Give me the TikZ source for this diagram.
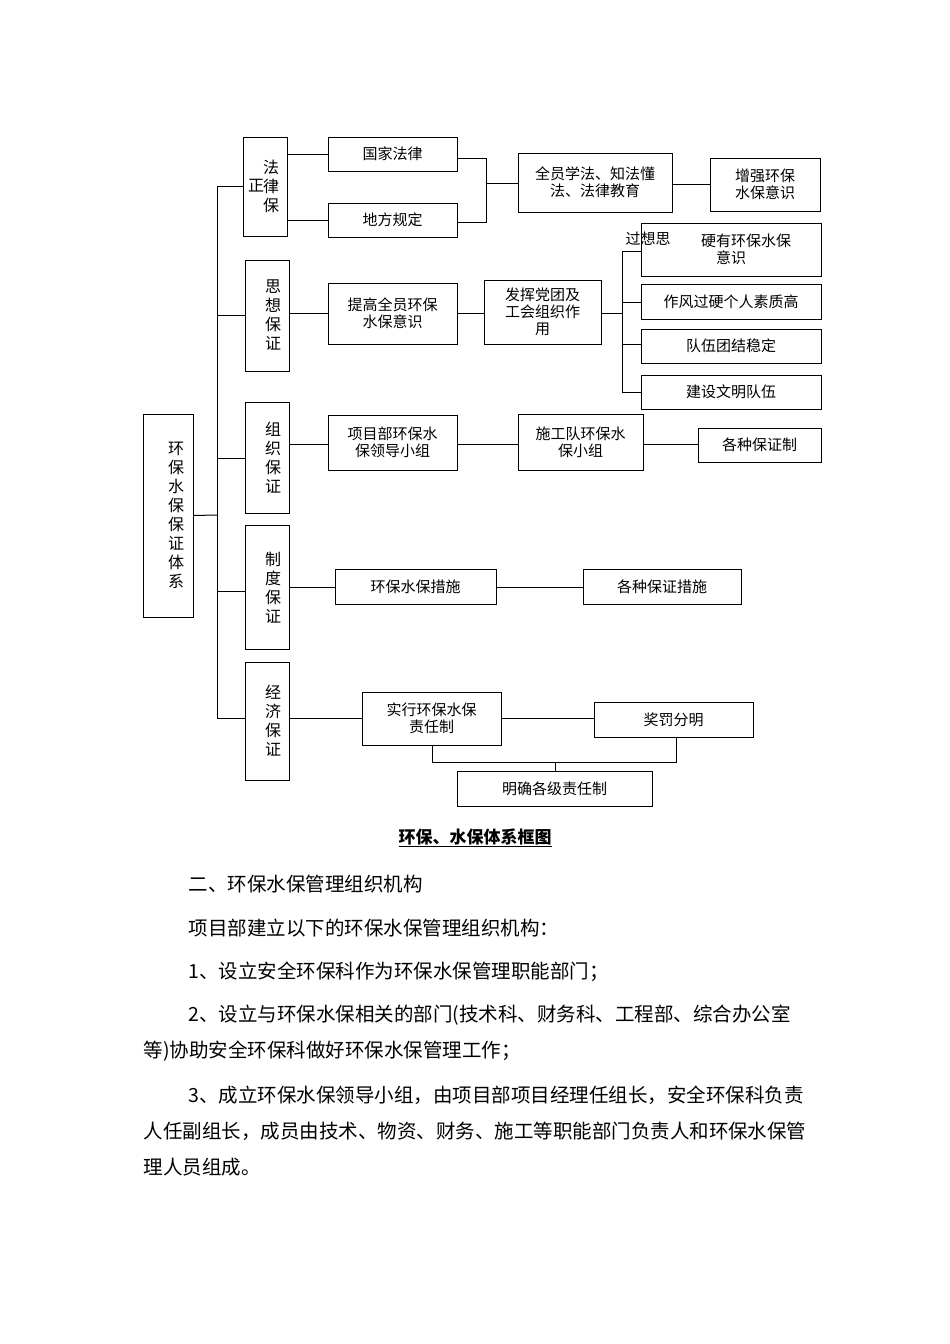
\documentclass[tikz,border=0pt]{standalone}
\usepackage{fontspec}
\setmainfont{Noto Sans CJK SC}
\begin{document}
\begin{tikzpicture}[x=1pt,y=-1pt,line width=1pt,
 bx/.style={draw,rectangle,inner sep=0pt,font=\fontsize{15}{17}\selectfont,align=center},
 vt/.style={font=\fontsize{16}{19}\selectfont,align=center,text width=16pt,inner sep=0pt},
 body/.style={anchor=west,inner sep=0pt,font=\fontsize{19.5}{22}\selectfont}]
\useasboundingbox (0,0) rectangle (950,1344);
\newcommand{\bxat}[6]{\node[bx,minimum width=#4-#2,minimum height=#5-#3] (#1) at ({(#2+#4)/2},{(#3+#5)/2}) {#6};}
% root
\bxat{root}{143}{414}{193}{617}{}
\node[vt] at (176,515) {环\\保\\水\\保\\保\\证\\体\\系};
% branch boxes
\bxat{b1}{243}{137}{287}{236}{}
\node[vt] at (271,186) {法\\律\\保};
\node[font=\fontsize{16}{19}\selectfont,inner sep=0pt] at (256,186) {正};
\bxat{b2}{245}{260}{289}{371}{}
\node[vt] at (273,315) {思\\想\\保\\证};
\bxat{b3}{245}{402}{289}{513}{}
\node[vt] at (273,458) {组\\织\\保\\证};
\bxat{b4}{245}{525}{289}{649}{}
\node[vt] at (273,588) {制\\度\\保\\证};
\bxat{b5}{245}{662}{289}{780}{}
\node[vt] at (273,721) {经\\济\\保\\证};
% trunk
\draw (217,186) -- (217,718);
\draw (root.east) -- (217,515);
\draw (217,186) -- (b1.west|-0,186);
\draw (217,315) -- (b2.west|-0,315);
\draw (217,458) -- (b3.west|-0,458);
\draw (217,591) -- (b4.west|-0,591);
\draw (217,718) -- (b5.west|-0,718);
% row 1
\bxat{gj}{328}{137}{457}{171}{国家法律}
\bxat{df}{328}{203}{457}{237}{地方规定}
\bxat{qy}{518}{153}{672}{212}{全员学法、知法懂\\法、法律教育}
\bxat{zq}{710}{158}{820}{211}{增强环保\\水保意识}
\draw (b1.east|-0,154) -- (gj.west|-0,154);
\draw (b1.east|-0,220) -- (df.west|-0,220);
\draw (gj.east|-0,158) -- (486,158) -- (486,222) -- (df.east|-0,222);
\draw (486,183) -- (qy.west|-0,183);
\draw (qy.east|-0,184) -- (zq.west|-0,184);
% row 2
\bxat{tg}{328}{283}{457}{344}{提高全员环保\\水保意识}
\bxat{fh}{484}{280}{601}{344}{发挥党团及\\工会组织作\\用}
\bxat{yy}{641}{223}{821}{276}{\hspace*{2em}硬有环保水保\\意识}
\bxat{zf}{641}{284}{821}{319}{作风过硬个人素质高}
\bxat{dw}{641}{329}{821}{363}{队伍团结稳定}
\bxat{js}{641}{375}{821}{409}{建设文明队伍}
\node[font=\fontsize{15}{17}\selectfont,inner sep=0pt] (gx) at (648,239) {过想思};
\draw (b2.east|-0,313) -- (tg.west|-0,313);
\draw (tg.east|-0,313) -- (fh.west|-0,313);
\draw (fh.east|-0,313) -- (622,313);
\draw (yy.west|-0,251) -- (622,251) -- (622,392) -- (js.west|-0,392);
\draw (622,302) -- (zf.west|-0,302);
\draw (622,344) -- (dw.west|-0,344);
% row 3
\bxat{xm}{328}{415}{457}{470}{项目部环保水\\保领导小组}
\bxat{sg}{518}{414}{643}{470}{施工队环保水\\保小组}
\bxat{gz}{698}{428}{821}{462}{各种保证制}
\draw (b3.east|-0,444) -- (xm.west|-0,444);
\draw (xm.east|-0,444) -- (sg.west|-0,444);
\draw (sg.east|-0,444) -- (gz.west|-0,444);
% row 4
\bxat{hb}{335}{569}{496}{604}{环保水保措施}
\bxat{gc}{583}{569}{741}{604}{各种保证措施}
\draw (b4.east|-0,587) -- (hb.west|-0,587);
\draw (hb.east|-0,587) -- (gc.west|-0,587);
% row 5
\bxat{sx}{362}{692}{501}{745}{实行环保水保\\责任制}
\bxat{jf}{594}{702}{753}{737}{奖罚分明}
\bxat{mq}{457}{771}{652}{806}{明确各级责任制}
\draw (b5.east|-0,718) -- (sx.west|-0,718);
\draw (sx.east|-0,718) -- (jf.west|-0,718);
\draw (sx.south-|432,0) -- (432,762) -- (676,762) -- (jf.south-|676,0);
\draw (mq.north-|555,0) -- (555,762);
% caption
\node[inner sep=0pt,font=\fontsize{17}{20}\selectfont\bfseries] (cap) at (475,838) {\underline{环保、水保体系框图}};
% body text
\node[body] (p1) at (188,884) {二、环保水保管理组织机构};
\node[body] (p2) at (188,928) {项目部建立以下的环保水保管理组织机构：};
\node[body] (p3) at (188,972) {1、设立安全环保科作为环保水保管理职能部门；};
\node[body] (p4) at (188,1015) {2、设立与环保水保相关的部门(技术科、财务科、工程部、综合办公室};
\node[body] (p5) at (143,1051) {等)协助安全环保科做好环保水保管理工作；};
\node[body] (p6) at (188,1095) {3、成立环保水保领导小组，由项目部项目经理任组长，安全环保科负责};
\node[body] (p7) at (143,1131) {人任副组长，成员由技术、物资、财务、施工等职能部门负责人和环保水保管};
\node[body] (p8) at (143,1167) {理人员组成。};
\end{tikzpicture}
\end{document}
